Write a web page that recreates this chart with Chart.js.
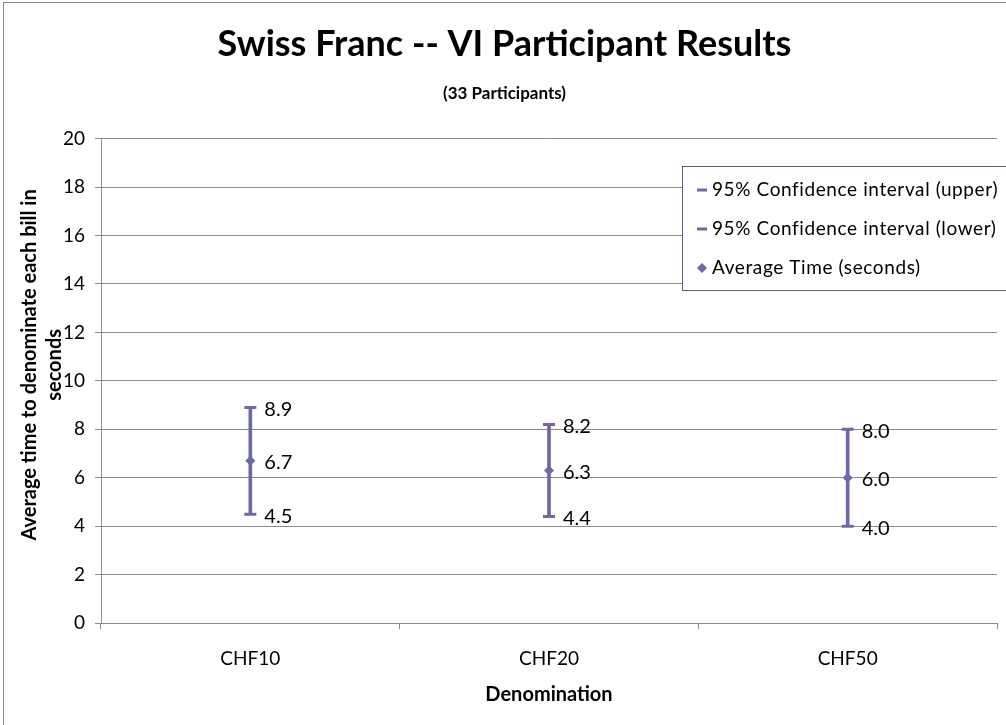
<!DOCTYPE html>
<html>
<head>
<meta charset="utf-8">
<title>Swiss Franc -- VI Participant Results</title>
<script src="https://cdn.jsdelivr.net/npm/chart.js@4/dist/chart.umd.min.js"></script>
<style>
  html, body { margin: 0; padding: 0; background: #fff; }
  canvas { display: block; }
</style>
</head>
<body>
<canvas id="chart" width="1006" height="725"></canvas>
<script>
// Data
const categories = ['CHF10', 'CHF20', 'CHF50'];
const upperValues = [8.9, 8.2, 8.0];
const lowerValues = [4.5, 4.4, 4.0];
const averageValues = [6.7, 6.3, 6.0];
const yTicks = [0, 2, 4, 6, 8, 10, 12, 14, 16, 18, 20];

const SERIES_COLOR = '#6a6aa6';
const GRID_COLOR = '#8c8c8c';
const FONT = 'Lato, "Open Sans", sans-serif';

// outer frame of the chart object
const framePlugin = {
  id: 'frame',
  beforeDraw(chart) {
    const ctx = chart.ctx;
    ctx.save();
    ctx.fillStyle = '#fff';
    ctx.fillRect(0, 0, chart.width, chart.height);
    ctx.strokeStyle = '#8a8a8a';
    ctx.lineWidth = 1;
    ctx.strokeRect(3.5, 2.5, chart.width + 20, chart.height + 20);
    ctx.restore();
  }
};

// two-line y axis title, drawn so "seconds" sits over the tick labels like the original
const yTitlePlugin = {
  id: 'yTitle',
  afterDraw(chart) {
    const ctx = chart.ctx;
    const area = chart.chartArea;
    const midY = (area.top + area.bottom) / 2 - 16;
    ctx.save();
    ctx.fillStyle = '#000';
    ctx.font = 'bold 20px ' + FONT;
    ctx.textAlign = 'center';
    ctx.textBaseline = 'middle';
    ctx.translate(30, midY);
    ctx.rotate(-Math.PI / 2);
    ctx.fillText('Average time to denominate each bill in', 0, 0);
    ctx.fillText('seconds', 0, 25);
    ctx.restore();
  }
};

// value labels to the right of every point
const valueLabelPlugin = {
  id: 'valueLabels',
  afterDatasetsDraw(chart) {
    const ctx = chart.ctx;
    ctx.save();
    ctx.fillStyle = '#000';
    ctx.font = '20px ' + FONT;
    ctx.textAlign = 'left';
    ctx.textBaseline = 'middle';
    chart.data.datasets.forEach((ds, di) => {
      if (ds.type !== 'line') return;
      const meta = chart.getDatasetMeta(di);
      meta.data.forEach((pt, i) => {
        ctx.fillText(ds.data[i].toFixed(1), pt.x + 14, pt.y + 2);
      });
    });
    ctx.restore();
  }
};

// boxed legend in the upper right, like the Excel original
const boxLegendPlugin = {
  id: 'boxLegend',
  afterDraw(chart) {
    const ctx = chart.ctx;
    const items = chart.data.datasets.filter(ds => ds.type === 'line');
    const x = 682, y = 166, rowH = 39;
    ctx.save();
    ctx.fillStyle = '#fff';
    ctx.fillRect(x, y, 400, rowH * items.length + 7);
    ctx.strokeStyle = '#5c5c98';
    ctx.lineWidth = 1;
    ctx.strokeRect(x + 0.5, y + 0.5, 400, rowH * items.length + 7);
    ctx.font = '19px ' + FONT;
    ctx.letterSpacing = '0.6px';
    ctx.textBaseline = 'middle';
    items.forEach((ds, i) => {
      const cy = y + 24 + i * rowH;
      ctx.fillStyle = SERIES_COLOR;
      if (ds.pointStyle === 'rectRot') {
        ctx.beginPath();
        ctx.moveTo(702, cy - 5);
        ctx.lineTo(707, cy);
        ctx.lineTo(702, cy + 5);
        ctx.lineTo(697, cy);
        ctx.closePath();
        ctx.fill();
      } else {
        ctx.fillRect(697, cy - 1.5, 10, 3);
      }
      ctx.fillStyle = '#000';
      ctx.fillText(ds.label, 712, cy);
    });
    ctx.restore();
  }
};

new Chart(document.getElementById('chart').getContext('2d'), {
  type: 'bar',
  data: {
    labels: categories,
    datasets: [
      {
        type: 'line',
        label: '95% Confidence interval (upper)',
        data: upperValues,
        showLine: false,
        pointStyle: 'line',
        pointRadius: 6,
        pointBorderWidth: 3,
        borderColor: SERIES_COLOR,
        backgroundColor: SERIES_COLOR,
        order: 1
      },
      {
        type: 'line',
        label: '95% Confidence interval (lower)',
        data: lowerValues,
        showLine: false,
        pointStyle: 'line',
        pointRadius: 6,
        pointBorderWidth: 3,
        borderColor: SERIES_COLOR,
        backgroundColor: SERIES_COLOR,
        order: 1
      },
      {
        type: 'line',
        label: 'Average Time (seconds)',
        data: averageValues,
        showLine: false,
        pointStyle: 'rectRot',
        pointRadius: 5,
        pointBorderWidth: 0,
        borderColor: SERIES_COLOR,
        backgroundColor: SERIES_COLOR,
        order: 0
      },
      {
        // vertical line between lower and upper bounds
        type: 'bar',
        label: '',
        data: categories.map((c, i) => [lowerValues[i], upperValues[i]]),
        backgroundColor: SERIES_COLOR,
        barThickness: 3,
        order: 2
      }
    ]
  },
  options: {
    responsive: false,
    animation: false,
    layout: { padding: { left: 6, right: 3, top: 0, bottom: 18 } },
    plugins: {
      legend: { display: false },
      tooltip: { enabled: false },
      title: {
        display: true,
        text: 'Swiss Franc -- VI Participant Results',
        color: '#000',
        font: { family: FONT, size: 36, weight: 'bold' },
        padding: { top: 23, bottom: 9 }
      },
      subtitle: {
        display: true,
        text: '(33 Participants)',
        color: '#000',
        font: { family: FONT, size: 17, weight: 'bold' },
        padding: { top: 8, bottom: 35 }
      }
    },
    scales: {
      x: {
        offset: true,
        grid: {
          offset: true,
          drawOnChartArea: false,
          drawTicks: true,
          tickLength: 6,
          color: GRID_COLOR
        },
        border: { color: GRID_COLOR },
        ticks: { color: '#000', font: { family: FONT, size: 19 }, padding: 18 },
        title: {
          display: true,
          text: 'Denomination',
          color: '#000',
          font: { family: FONT, size: 20, weight: 'bold' },
          padding: { top: -5, bottom: 0 }
        }
      },
      y: {
        min: 0,
        max: 20,
        afterBuildTicks(scale) {
          scale.ticks = yTicks.map(v => ({ value: v }));
        },
        afterFit(scale) {
          scale.width = 95;
        },
        grid: { color: GRID_COLOR, tickLength: 6 },
        border: { color: GRID_COLOR },
        ticks: { color: '#000', font: { family: FONT, size: 19 }, padding: 10 }
      }
    }
  },
  plugins: [framePlugin, yTitlePlugin, valueLabelPlugin, boxLegendPlugin]
});
</script>
</body>
</html>
